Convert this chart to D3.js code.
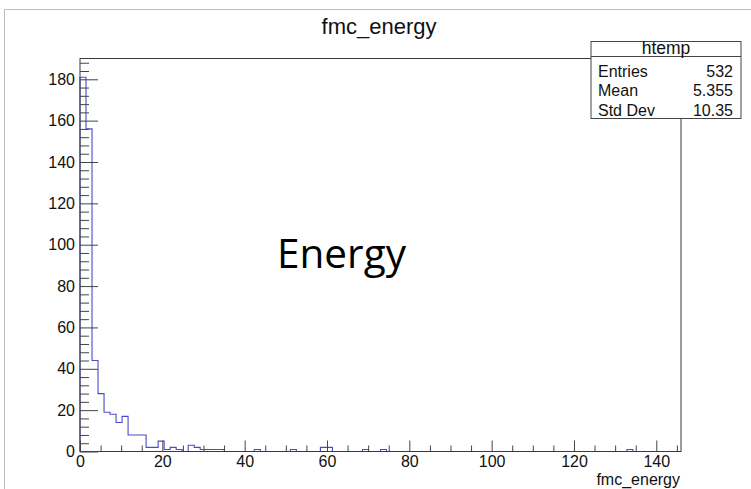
<!DOCTYPE html>
<html>
<head>
<meta charset="utf-8">
<script src="https://cdn.jsdelivr.net/npm/d3@7"></script>
<style>
  html, body { margin: 0; padding: 0; background: #fff; }
  svg { display: block; }
  text { font-family: "Liberation Sans", Arial, Helvetica, sans-serif; }
</style>
</head>
<body>
<svg id="chart" width="751" height="489"></svg>
<script>
// Histogram definition: 100 equal-width bins over [0, 146]
const binRange = [0, 146];
const binCount = 100;
const counts = [
  181, 156, 44, 28, 19, 18, 14, 17, 8, 8,
  8, 2, 2, 5, 1, 2, 1, 0, 3, 2,
  1, 1, 1, 1, 0, 0, 0, 0, 0, 1,
  0, 0, 0, 0, 0, 1, 0, 0, 0, 0,
  2, 2, 0, 0, 0, 0, 0, 1, 0, 0,
  1, 0, 0, 0, 0, 0, 0, 0, 0, 0,
  0, 0, 0, 0, 0, 0, 0, 0, 0, 0,
  0, 0, 0, 0, 0, 0, 0, 0, 0, 0,
  0, 0, 0, 0, 0, 0, 0, 0, 0, 0,
  0, 1, 0, 0, 0, 0, 0, 0, 0, 0
];
const xMajorTicks = [0, 20, 40, 60, 80, 100, 120, 140];
const yMajorTicks = [0, 20, 40, 60, 80, 100, 120, 140, 160, 180];
const histTitle = "fmc_energy";
const xAxisTitle = "fmc_energy";
const statName = "htemp";
const statLabels = ["Entries", "Mean", "Std Dev"];
const statValues = ["532", "5.355", "10.35"];
const overlayLabel = "Energy";

const svg = d3.select("#chart");

// Pad border
svg.append("path")
  .attr("d", "M4.5,489 L4.5,9.5 L751,9.5")
  .attr("fill", "none")
  .attr("stroke", "#bdbdbd")
  .attr("stroke-width", 1);

const frame = { left: 80, right: 681, top: 58.5, bottom: 451.5 };

const x = d3.scaleLinear().domain(binRange).range([frame.left, frame.right]);
const yMax = d3.max(counts) * 1.05;
const y = d3.scaleLinear().domain([0, yMax]).range([frame.bottom, frame.top]);

// Step outline of the histogram
const binWidth = (binRange[1] - binRange[0]) / binCount;
const pts = [[binRange[0], 0]];
counts.forEach((c, i) => pts.push([binRange[0] + i * binWidth, c]));
pts.push([binRange[1], 0]);

const line = d3.line()
  .x(d => x(d[0]))
  .y(d => y(d[1]))
  .curve(d3.curveStepAfter);

svg.append("path")
  .datum(pts)
  .attr("d", line)
  .attr("fill", "none")
  .attr("stroke", "#4b4bc8")
  .attr("stroke-width", 1.1);

// Frame
svg.append("rect")
  .attr("x", frame.left)
  .attr("y", frame.top)
  .attr("width", frame.right - frame.left)
  .attr("height", frame.bottom - frame.top)
  .attr("fill", "none")
  .attr("stroke", "#3a3a3a")
  .attr("stroke-width", 1);

// X axis: major + minor ticks pointing into the frame
const xMinor = d3.range(0, binRange[1], 5).filter(v => v % 20 !== 0);
svg.append("g")
  .attr("transform", `translate(0,${frame.bottom})`)
  .call(d3.axisBottom(x).tickValues(xMinor).tickSize(-6).tickFormat(""))
  .call(g => g.select(".domain").remove())
  .call(g => g.selectAll("line").attr("stroke", "#444"));

svg.append("g")
  .attr("transform", `translate(0,${frame.bottom})`)
  .call(d3.axisBottom(x).tickValues(xMajorTicks).tickSize(-11).tickPadding(4).tickFormat(d3.format("d")))
  .call(g => g.select(".domain").remove())
  .call(g => g.selectAll("line").attr("stroke", "#444"))
  .call(g => g.selectAll("text")
    .attr("fill", "#111")
    .style("font-size", "16px")
    .style("font-family", "'Liberation Sans', Arial, sans-serif"));

// Y axis
const yMinor = d3.range(0, yMax, 4).filter(v => v % 20 !== 0);
svg.append("g")
  .attr("transform", `translate(${frame.left},0)`)
  .call(d3.axisLeft(y).tickValues(yMinor).tickSize(-9).tickFormat(""))
  .call(g => g.select(".domain").remove())
  .call(g => g.selectAll("line").attr("stroke", "#444"));

svg.append("g")
  .attr("transform", `translate(${frame.left},0)`)
  .call(d3.axisLeft(y).tickValues(yMajorTicks).tickSize(-18).tickPadding(5).tickFormat(d3.format("d")))
  .call(g => g.select(".domain").remove())
  .call(g => g.selectAll("line").attr("stroke", "#444"))
  .call(g => g.selectAll("text")
    .attr("fill", "#111")
    .style("font-size", "16px")
    .style("font-family", "'Liberation Sans', Arial, sans-serif"));

// X axis title
svg.append("text")
  .attr("x", frame.right - 1)
  .attr("y", 485)
  .attr("text-anchor", "end")
  .attr("fill", "#111")
  .style("font-size", "16px")
  .text(xAxisTitle);

// Histogram title
svg.append("text")
  .attr("x", 379)
  .attr("y", 34)
  .attr("text-anchor", "middle")
  .attr("fill", "#111")
  .style("font-size", "22px")
  .text(histTitle);

// Statistics box
const box = { x: 591, y: 41.5, w: 150, h: 77, sep: 56.5 };
const stats = svg.append("g");
stats.append("rect")
  .attr("x", box.x).attr("y", box.y)
  .attr("width", box.w).attr("height", box.h)
  .attr("fill", "#fff")
  .attr("stroke", "#444");
stats.append("line")
  .attr("x1", box.x).attr("x2", box.x + box.w)
  .attr("y1", box.sep).attr("y2", box.sep)
  .attr("stroke", "#444");
stats.append("text")
  .attr("x", box.x + box.w / 2)
  .attr("y", 53.5)
  .attr("text-anchor", "middle")
  .attr("fill", "#111")
  .style("font-size", "17.5px")
  .text(statName);

const rowY = d3.scalePoint().domain(statLabels).range([77, 115.5]);
stats.selectAll("text.lbl")
  .data(statLabels)
  .join("text")
  .attr("class", "lbl")
  .attr("x", box.x + 7)
  .attr("y", d => rowY(d))
  .attr("fill", "#111")
  .style("font-size", "16px")
  .text(d => d);
stats.selectAll("text.val")
  .data(statValues)
  .join("text")
  .attr("class", "val")
  .attr("x", box.x + box.w - 8)
  .attr("y", (d, i) => rowY(statLabels[i]))
  .attr("text-anchor", "end")
  .attr("fill", "#111")
  .style("font-size", "16px")
  .text(d => d);

// Large annotation inside the plot
svg.append("text")
  .attr("x", 277)
  .attr("y", 268)
  .attr("fill", "#000")
  .style("font-family", "'Open Sans', 'Noto Sans', sans-serif")
  .style("font-size", "40.5px")
  .text(overlayLabel);
</script>
</body>
</html>
